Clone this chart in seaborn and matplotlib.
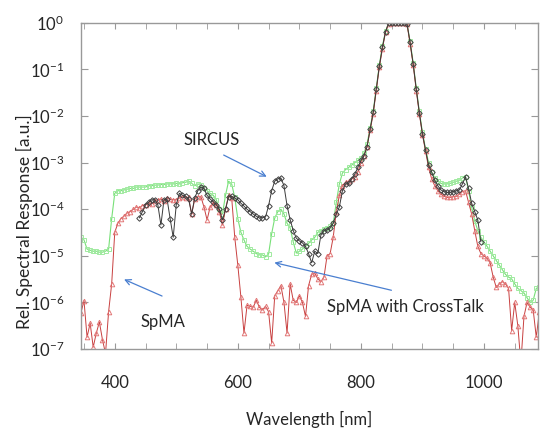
import numpy as np
import pandas as pd
import seaborn as sns
import matplotlib.pyplot as plt

# wavelength grids [nm]
wl_spma = np.arange(345, 1095, 5)
wl_sircus = np.arange(440, 1000, 5)

# SpMA (red triangles)
spma = [
    5.9e-7, 1.1e-6, 1.8e-7, 3.6e-7, 1.1e-7, 2.2e-7, 3.8e-7, 1.6e-7, 8e-8, 6.3e-7,
    2.5e-6, 3.2e-5, 5.0e-5, 6.3e-5, 7.1e-5, 8.3e-5, 8.9e-5, 1.0e-4, 1.12e-4, 1.07e-4,
    1.2e-4, 1.26e-4, 1.35e-4, 1.32e-4, 1.5e-4, 1.6e-4, 1.66e-4, 1.5e-4, 1.74e-4, 1.66e-4,
    1.6e-4, 1.6e-4, 1.74e-4, 1.86e-4, 1.78e-4, 1.8e-4, 7.9e-5, 1.66e-4, 1.86e-4, 1.86e-4,
    1.12e-4, 5.9e-5, 1.12e-4, 1.35e-4, 1.26e-4, 8.9e-5, 4.6e-5, 1.0e-4, 2.0e-4, 1.78e-4,
    2.5e-5, 6.3e-6, 1.3e-6, 2.2e-7, 8.7e-7, 8.3e-7, 7.9e-7, 1.12e-6, 7.9e-7, 6.9e-7,
    8.3e-7, 6.3e-7, 1.35e-7, 1.4e-6, 1.78e-6, 2.3e-6, 1.0e-6, 2.2e-7, 2.5e-6, 1.12e-6,
    1.0e-6, 1.4e-6, 1.0e-6, 5.0e-7, 2.3e-6, 4.0e-6, 4.3e-6, 3.2e-6, 2.8e-6, 3.5e-6,
    1.0e-5, 1.12e-5, 2.5e-5, 8.9e-5, 2.0e-4, 3.2e-4, 3.8e-4, 4.0e-4, 4.5e-4, 5.0e-4,
    6.3e-4, 1.0e-3, 1.4e-3, 2.2e-3, 5.0e-3, 1.12e-2, 3.5e-2, 0.112, 0.28, 0.63,
    0.95, 1.0, 1.0, 1.0, 1.0, 1.0, 0.93, 0.35, 0.126, 3.5e-2,
    1.12e-2, 4.0e-3, 1.8e-3, 7.9e-4, 4.5e-4, 3.2e-4, 2.5e-4, 2.1e-4, 1.9e-4, 1.8e-4,
    1.8e-4, 1.86e-4, 1.9e-4, 2.1e-4, 2.4e-4, 2.5e-4, 1.4e-4, 7.9e-5, 3.5e-5, 1.6e-5,
    1.12e-5, 1.0e-5, 8.9e-6, 7.1e-6, 3.5e-6, 2.1e-6, 2.5e-6, 2.8e-6, 2.5e-6, 2.0e-6,
    2.5e-7, 1.0e-6, 3.2e-7, 5e-8, 5.0e-7, 1.0e-6, 7.9e-7, 6.9e-7, 1.8e-7, 6.3e-7,
]

# SpMA with CrossTalk (green squares)
crosstalk = [
    2.5e-5, 2.2e-5, 1.4e-5, 1.32e-5, 1.26e-5, 1.26e-5, 1.2e-5, 1.2e-5, 1.26e-5, 1.4e-5,
    6.3e-5, 2.2e-4, 2.5e-4, 2.5e-4, 2.6e-4, 2.7e-4, 2.8e-4, 2.8e-4, 3.0e-4, 3.0e-4,
    3.0e-4, 3.0e-4, 3.2e-4, 3.2e-4, 3.3e-4, 3.3e-4, 3.4e-4, 3.4e-4, 3.5e-4, 3.5e-4,
    3.5e-4, 3.6e-4, 3.5e-4, 3.7e-4, 3.8e-4, 4.0e-4, 3.6e-4, 3.2e-4, 3.5e-4, 3.3e-4,
    2.8e-4, 2.5e-4, 2.2e-4, 2.0e-4, 1.6e-4, 1.0e-4, 7.9e-5, 2.0e-4, 4.0e-4, 3.5e-4,
    1.8e-4, 6.3e-5, 3.2e-5, 2.2e-5, 1.6e-5, 1.4e-5, 1.26e-5, 1.12e-5, 1.05e-5, 1.05e-5,
    9.5e-6, 1.1e-5, 3.0e-5, 6.5e-5, 8.9e-5, 1.0e-4, 7.9e-5, 5.0e-5, 4.0e-5, 2.0e-5,
    1.15e-5, 1.26e-5, 1.4e-5, 1.6e-5, 1.86e-5, 2.2e-5, 2.5e-5, 3.2e-5, 3.5e-5, 3.8e-5,
    4.0e-5, 4.3e-5, 5.0e-5, 1.4e-4, 3.5e-4, 6.0e-4, 7.1e-4, 7.9e-4, 8.9e-4, 1.0e-3,
    1.12e-3, 1.26e-3, 1.6e-3, 2.5e-3, 5.6e-3, 1.26e-2, 4.0e-2, 0.126, 0.32, 0.66,
    0.98, 1.0, 1.0, 1.0, 1.0, 1.0, 0.95, 0.4, 0.14, 4.0e-2,
    1.26e-2, 4.5e-3, 2.0e-3, 1.0e-3, 6.3e-4, 4.8e-4, 4.0e-4, 3.6e-4, 3.5e-4, 3.5e-4,
    3.6e-4, 3.8e-4, 4.0e-4, 4.2e-4, 4.7e-4, 5.0e-4, 2.5e-4, 1.12e-4, 5.6e-5, 3.5e-5,
    2.5e-5, 2.0e-5, 1.6e-5, 1.26e-5, 1.0e-5, 7.9e-6, 6.3e-6, 5.0e-6, 4.0e-6, 3.5e-6,
    3.2e-6, 2.5e-6, 2.0e-6, 1.8e-6, 1.6e-6, 1.26e-6, 1.0e-6, 1.12e-6, 2.0e-6, 2.2e-6,
]

# SIRCUS (black diamonds)
sircus = [
    6.5e-5, 8.9e-5, 1.26e-4, 1.4e-4, 1.6e-4, 1.6e-4, 1.26e-4, 4.6e-5, 1.6e-4, 1.66e-4,
    6.3e-5, 2.5e-5, 1.26e-4, 2.2e-4, 2.0e-4, 1.9e-4, 1.66e-4, 7.9e-5, 1.78e-4, 2.5e-4,
    3.0e-4, 2.8e-4, 2.0e-4, 1.66e-4, 1.45e-4, 1.26e-4, 1.0e-4, 5.9e-5, 1.0e-4, 1.86e-4,
    1.9e-4, 1.74e-4, 1.6e-4, 1.35e-4, 1.17e-4, 1.0e-4, 8.9e-5, 7.9e-5, 7.1e-5, 6.5e-5,
    6.6e-5, 6.8e-5, 1.2e-4, 2.5e-4, 4.0e-4, 4.5e-4, 4.7e-4, 3.2e-4, 1.2e-4, 6.0e-5,
    3.5e-5, 2.4e-5, 2.1e-5, 1.9e-5, 1.6e-5, 1.12e-5, 7.1e-6, 1.26e-5, 1.12e-5, 2.8e-5,
    3.5e-5, 3.6e-5, 4.0e-5, 5.0e-5, 7.9e-5, 1.12e-4, 2.5e-4, 3.5e-4, 3.6e-4, 4.5e-4,
    5.6e-4, 7.9e-4, 1.12e-3, 1.4e-3, 2.2e-3, 5.2e-3, 1.2e-2, 3.8e-2, 0.12, 0.3,
    0.65, 0.98, 1.0, 1.0, 1.0, 1.0, 1.0, 0.95, 0.38, 0.13,
    3.8e-2, 1.17e-2, 4.2e-3, 1.9e-3, 8.9e-4, 6.3e-4, 4.2e-4, 3.2e-4, 2.6e-4, 2.4e-4,
    2.3e-4, 2.3e-4, 2.4e-4, 2.5e-4, 2.6e-4, 3.5e-4, 5.0e-4, 2.8e-4, 1.35e-4, 8.9e-5,
    5.9e-5, 2.0e-5,
]

sns.set_style("white")
plt.rcParams['font.family'] = ['Lato', 'DejaVu Sans']

fig = plt.figure(figsize=(5.43, 4.32), dpi=100)
ax = fig.add_axes([0.149, 0.192, 0.842, 0.755])

sns.lineplot(x=wl_spma, y=crosstalk, ax=ax, color="#78e078", lw=0.8,
             marker="s", markersize=3.3, markerfacecolor="none",
             markeredgecolor="#a0eaa0", markeredgewidth=0.7, estimator=None)
sns.lineplot(x=wl_spma, y=spma, ax=ax, color="#c84040", lw=0.7,
             marker="^", markersize=3.3, markerfacecolor="none",
             markeredgecolor="#e27878", markeredgewidth=0.7, estimator=None)
sns.lineplot(x=wl_sircus, y=sircus, ax=ax, color="#3a3a3a", lw=0.7,
             marker="D", markersize=2.8, markerfacecolor="none",
             markeredgecolor="#404040", markeredgewidth=0.7, estimator=None)

ax.set_yscale("log")
ax.set_xlim(345, 1088)
ax.set_ylim(1e-7, 1.0)
ax.set_xticks([400, 600, 800, 1000])
ax.set_xticks(np.arange(350, 1100, 50), minor=True)
ax.set_yticks([10.0 ** k for k in range(-7, 1)])
ax.yaxis.set_minor_locator(plt.NullLocator())

ax.tick_params(axis="x", which="both", direction="in", top=True, bottom=True,
               length=4, color="#999999", pad=19, labelsize=12)
ax.tick_params(axis="y", which="both", direction="in", left=True, right=True,
               length=5, color="#999999", pad=12, labelsize=12)
for s in ax.spines.values():
    s.set_color("#999999")
    s.set_linewidth(1.0)

ax.set_xlabel("Wavelength [nm]", fontsize=12, labelpad=14)
ax.set_ylabel("Rel. Spectral Response [a.u.]", fontsize=12.5)
ax.yaxis.set_label_coords(-0.105, 0.39)

arrow = dict(arrowstyle="->", color="#4a7fd0", lw=0.9)
ax.text(557, 3.1e-3, "SIRCUS", fontsize=12, ha="center", va="center")
ax.annotate("", xy=(651, 4.7e-4), xytext=(573, 1.55e-3), arrowprops=arrow)
ax.text(478, 3.8e-7, "SpMA", fontsize=12, ha="center", va="center")
ax.annotate("", xy=(411, 3.3e-6), xytext=(481, 1.3e-6), arrowprops=arrow)
ax.text(873, 8e-7, "SpMA with CrossTalk", fontsize=12, ha="center", va="center")
ax.annotate("", xy=(655, 7.4e-6), xytext=(854, 1.77e-6), arrowprops=arrow)

fig.savefig("out.png", dpi=100)
